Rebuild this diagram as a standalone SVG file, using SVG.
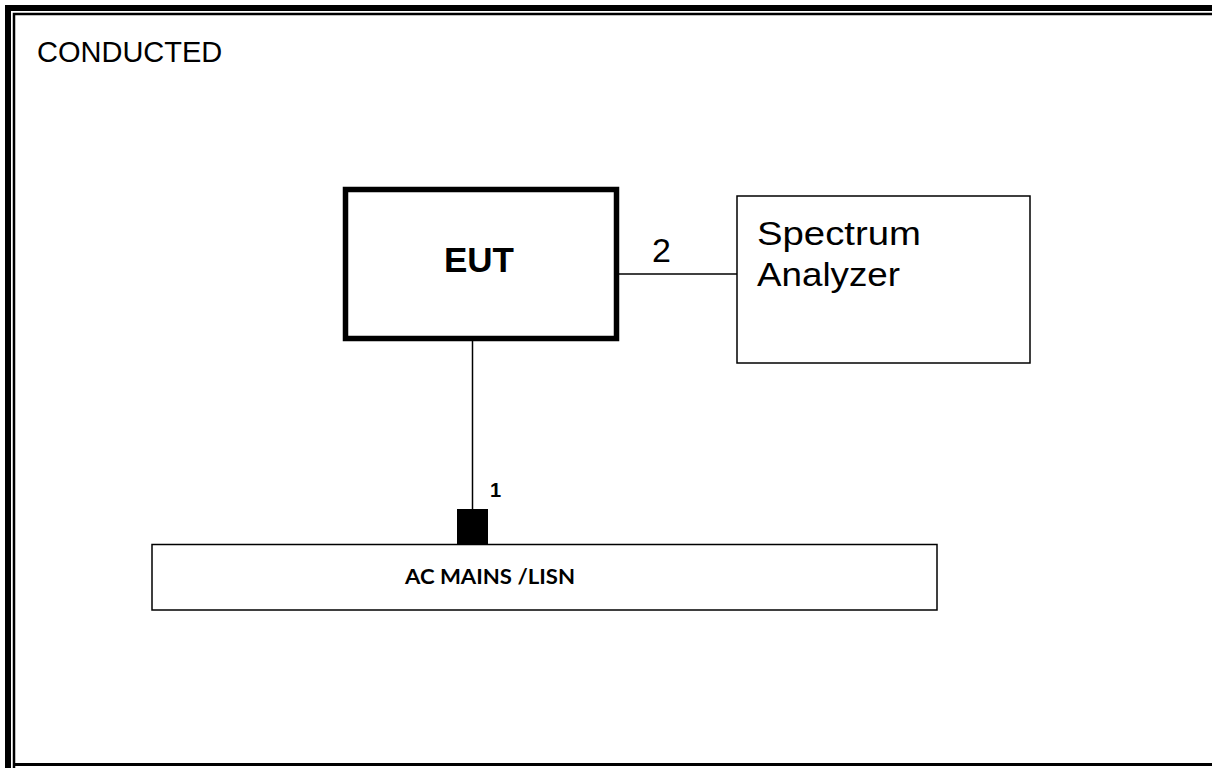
<svg xmlns="http://www.w3.org/2000/svg" width="1212" height="768" viewBox="0 0 1212 768">
<style>
.box{fill:#fff;stroke:#000}
.ar{font-family:"Liberation Sans",Arial,sans-serif;fill:#000}
.cal{font-family:Lato,"Open Sans",sans-serif;font-weight:bold;fill:#000}
.wire{stroke:#000;stroke-width:1.5;fill:none}
</style>
<rect x="0" y="0" width="1212" height="768" fill="#fff"/>
<g id="frame">
<path d="M8,768 V8 H1212" fill="none" stroke="#000" stroke-width="6"/>
<path d="M14,768 V14 H1212" fill="none" stroke="#000" stroke-width="2.5"/>
<line x1="13" y1="764.5" x2="1212" y2="764.5" stroke="#000" stroke-width="3"/>
</g>
<text class="ar" x="37" y="62" font-size="29">CONDUCTED</text>
<g id="connectors">
<line class="wire" x1="619" y1="274" x2="737" y2="274"/>
<line class="wire" x1="472.5" y1="341" x2="472.5" y2="510"/>
<text class="ar" x="652" y="262" font-size="34">2</text>
<text class="ar" x="490" y="497" font-size="20" font-weight="bold">1</text>
</g>
<g id="eut">
<rect class="box" x="345.5" y="189.5" width="271" height="149" stroke-width="5.5"/>
<text class="ar" x="479" y="272" font-size="35" font-weight="bold" text-anchor="middle">EUT</text>
</g>
<g id="spectrum-analyzer">
<rect class="box" x="737" y="196" width="293" height="167" stroke-width="1.5"/>
<text class="ar" x="757" y="245" font-size="34" textLength="164" lengthAdjust="spacingAndGlyphs">Spectrum</text>
<text class="ar" x="757" y="286" font-size="34" textLength="143" lengthAdjust="spacingAndGlyphs">Analyzer</text>
</g>
<g id="ac-mains">
<rect class="box" x="152" y="544.5" width="785" height="65.5" stroke-width="1.5"/>
<rect x="457" y="509" width="31" height="35.5" fill="#000"/>
<text class="cal" x="405" y="584" font-size="20" textLength="170" lengthAdjust="spacingAndGlyphs">AC MAINS /LISN</text>
</g>
</svg>
